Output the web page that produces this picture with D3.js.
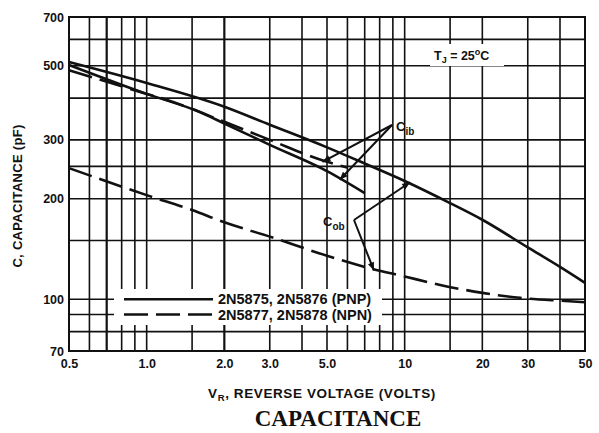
<!DOCTYPE html>
<html><head><meta charset="utf-8">
<script src="https://cdn.jsdelivr.net/npm/d3@7"></script>
<style>body{margin:0;background:#fff}svg{display:block}</style>
</head><body><svg id="c" width="599" height="433"></svg>
<script>
// ---- data ----
const xTickValues = [0.5, 1, 2, 3, 5, 10, 20, 30, 50];
const xTickLabels = ["0.5", "1.0", "2.0", "3.0", "5.0", "10", "20", "30", "50"];
const yTickValues = [70, 100, 200, 300, 500, 700];
const yTickLabels = ["70", "100", "200", "300", "500", "700"];
const xGridValues = [0.6, 0.7, 0.8, 0.9, 1, 1.5, 2, 3, 4, 5, 6, 7, 8, 9, 10, 15, 20, 30, 40];
const yGridValues = [80, 90, 100, 150, 200, 250, 300, 400, 500, 600];

const pnpCobV = [0.5, 1, 2, 3, 5, 7, 10, 15, 20, 30, 40, 50];
const pnpCobC = [513, 444, 377, 333, 285, 255, 226, 194, 173, 143, 125, 112];
const pnpCibV = [0.5, 1, 1.6, 2, 3, 5, 7];
const pnpCibC = [503, 412, 364, 336, 290, 242, 208];
const npnCibV = [0.5, 1, 1.2, 2, 3, 5, 6];
const npnCibC = [485, 412, 395, 340, 300, 258, 248];
const npnCobV = [0.5, 1, 1.5, 2, 3, 5, 7, 10, 14, 20, 28, 40, 50];
const npnCobC = [247, 205, 185, 170, 154, 135, 125, 117, 110, 104.5, 101, 99, 98];

const legendLabels = ["2N5875, 2N5876 (PNP)", "2N5877, 2N5878 (NPN)"];

// ---- layout ----
const L = 69, R = 585, T = 17, B = 351;
const svg = d3.select("#c");
const x = d3.scaleLog().domain([0.5, 50]).range([L, R]);
const y = d3.scaleLog().domain([70, 700]).range([B, T]);
const ink = "#111";

// grid
const g = svg.append("g");
g.selectAll(".vx").data(xGridValues).enter().append("line")
  .attr("x1", d => x(d)).attr("x2", d => x(d)).attr("y1", T).attr("y2", B)
  .attr("stroke", ink).attr("stroke-width", d => (d === 0.7 || d === 2) ? 2.2 : 1.6);
g.selectAll(".hy").data(yGridValues).enter().append("line")
  .attr("y1", d => y(d)).attr("y2", d => y(d)).attr("x1", L).attr("x2", R)
  .attr("stroke", ink).attr("stroke-width", 1.6);
g.append("rect").attr("x", L).attr("y", T).attr("width", R - L).attr("height", B - T)
  .attr("fill", "none").attr("stroke", ink).attr("stroke-width", 2);

// white boxes (legend, Tj)
svg.append("rect").attr("x", 114).attr("y", 289).attr("width", 268).attr("height", 36).attr("fill", "#fff");
svg.append("rect").attr("x", 430).attr("y", 44).attr("width", 74).attr("height", 22).attr("fill", "#fff");

// curves
const line = d3.line().x(d => x(d[0])).y(d => y(d[1])).curve(d3.curveMonotoneX);
function series(V, C, dash) {
  svg.append("path").datum(V.map((v, i) => [v, C[i]]))
    .attr("d", line).attr("fill", "none").attr("stroke", ink)
    .attr("stroke-width", 2.6).attr("stroke-dasharray", dash || null);
}
series(pnpCobV, pnpCobC);
series(pnpCibV, pnpCibC);
series(npnCibV, npnCibC, "24,8");
series(npnCobV, npnCobC, "24,8");

// axes labels
const font = "'Liberation Sans', Arial, sans-serif";
const xAxis = d3.axisBottom(x).tickValues(xTickValues).tickFormat((d, i) => xTickLabels[i]).tickSize(0).tickPadding(0);
const xa = svg.append("g").attr("transform", `translate(0,${B + 8})`).call(xAxis);
xa.select(".domain").remove();
xa.selectAll("text").attr("font-family", font).attr("font-size", 12.5).attr("font-weight", "bold").attr("fill", ink).attr("dy", "0.71em");
const yAxis = d3.axisLeft(y).tickValues(yTickValues).tickFormat((d, i) => yTickLabels[i]).tickSize(0).tickPadding(0);
const ya = svg.append("g").attr("transform", `translate(${L - 5},0)`).call(yAxis);
ya.select(".domain").remove();
ya.selectAll("text").attr("font-family", font).attr("font-size", 12.5).attr("font-weight", "bold").attr("fill", ink);

// axis titles
svg.append("text").attr("transform", `translate(22,${(T + B) / 2 + 12}) rotate(-90)`)
  .attr("text-anchor", "middle").attr("font-family", font).attr("font-size", 13).attr("font-weight", "bold")
  .attr("letter-spacing", 0.3).attr("fill", ink).text("C, CAPACITANCE (pF)");
const xt = svg.append("text").attr("x", 322).attr("y", 398).attr("text-anchor", "middle")
  .attr("font-family", font).attr("font-size", 13.5).attr("font-weight", "bold").attr("letter-spacing", 0.6).attr("fill", ink);
xt.append("tspan").text("V");
xt.append("tspan").attr("font-size", 9.5).attr("dy", 3).text("R");
xt.append("tspan").attr("dy", -3).text(", REVERSE VOLTAGE (VOLTS)");
svg.append("text").attr("x", 338).attr("y", 426).attr("text-anchor", "middle")
  .attr("font-family", "'Liberation Serif', 'Times New Roman', serif").attr("font-size", 23).attr("font-weight", "bold")
  .attr("fill", ink).text("CAPACITANCE");

// Tj label
const tj = svg.append("text").attr("x", 434).attr("y", 60).attr("font-family", font).attr("font-size", 12.5).attr("font-weight", "bold").attr("fill", ink);
tj.append("tspan").text("T");
tj.append("tspan").attr("font-size", 9).attr("dy", 3).text("J");
tj.append("tspan").attr("dy", -3).text(" = 25");
tj.append("tspan").attr("font-size", 9).attr("dy", -5).text("o");
tj.append("tspan").attr("dy", 5).text("C");

// annotations
function lbl(px, py, main, sub) {
  const t = svg.append("text").attr("x", px).attr("y", py).attr("font-family", font).attr("font-size", 13).attr("font-weight", "bold").attr("fill", ink);
  t.append("tspan").text(main);
  t.append("tspan").attr("font-size", 10).attr("dy", 4).text(sub);
}
lbl(396, 131, "C", "ib");
lbl(323, 226, "C", "ob");

function arrow(x1, y1, x2, y2) {
  svg.append("line").attr("x1", x1).attr("y1", y1).attr("x2", x2).attr("y2", y2).attr("stroke", ink).attr("stroke-width", 2);
  const a = Math.atan2(y2 - y1, x2 - x1), s = 8, w = 3.2;
  const bx = x2 - s * Math.cos(a), by = y2 - s * Math.sin(a);
  svg.append("path").attr("d", `M${x2},${y2}L${bx - w * Math.sin(a)},${by + w * Math.cos(a)}L${bx + w * Math.sin(a)},${by - w * Math.cos(a)}Z`).attr("fill", ink);
}
// Cib arrows: point to curves
arrow(392, 125, x(4.8), y(258));
arrow(392, 125, x(5.6), y(228));
// Cob arrows
arrow(354, 220, x(10.5), y(224));
arrow(354, 220, x(7.6), y(122));

// legend
const legY = [y(100), y(90)];
legendLabels.forEach((lab, i) => {
  svg.append("line").attr("x1", 124).attr("x2", 213).attr("y1", legY[i]).attr("y2", legY[i])
    .attr("stroke", ink).attr("stroke-width", 2.6).attr("stroke-dasharray", i ? "24,8" : null);
  svg.append("text").attr("x", 218).attr("y", legY[i] + 5).attr("font-family", font).attr("font-size", 14.5).attr("font-weight", "bold")
    .attr("fill", ink).text(lab);
});
</script></body></html>
